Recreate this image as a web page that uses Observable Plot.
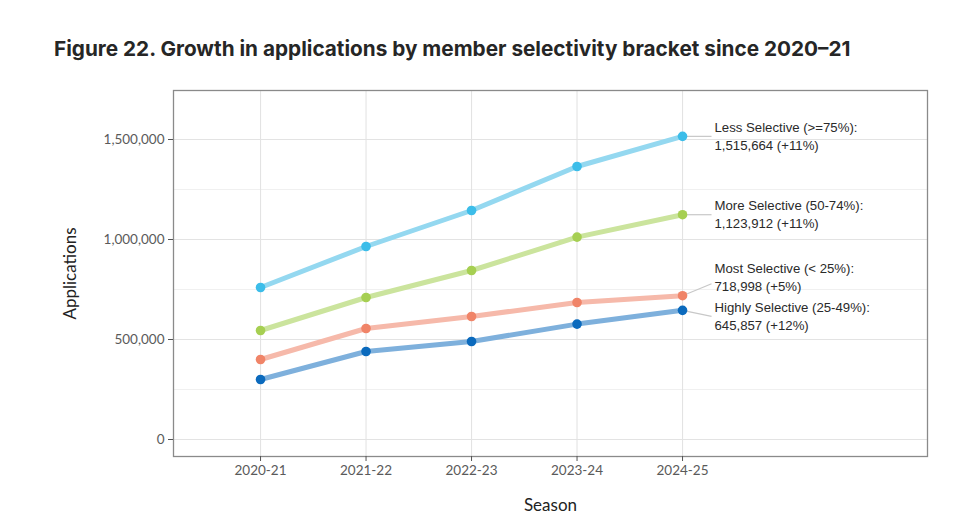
<!DOCTYPE html>
<html>
<head>
<meta charset="utf-8">
<script src="https://cdn.jsdelivr.net/npm/d3@7"></script>
<script src="https://cdn.jsdelivr.net/npm/@observablehq/plot@0.6"></script>
<style>
  html, body { margin: 0; padding: 0; background: #fff; }
  #title { font-family: "Inter", sans-serif; font-weight: 700; font-size: 20px; color: #262626;
           position: absolute; left: 54px; top: 36px; white-space: nowrap; line-height: 26px; }
  #chart { position: absolute; left: 0; top: 80px; }
</style>
</head>
<body>
<div id="title">Figure 22. Growth in applications by member selectivity bracket since 2020–21</div>
<div id="chart"></div>
<script>
const seasons = ["2020-21", "2021-22", "2022-23", "2023-24", "2024-25"];
const seriesNames = ["Less Selective (>=75%)", "More Selective (50-74%)", "Most Selective (< 25%)", "Highly Selective (25-49%)"];
const lessSelective = [760000, 965000, 1145000, 1365000, 1515664];
const moreSelective = [545000, 710000, 845000, 1012000, 1123912];
const mostSelective = [400000, 555000, 615000, 685000, 718998];
const highlySelective = [300000, 440000, 490000, 577000, 645857];
const growthLabels = ["+11%", "+11%", "+5%", "+12%"];
const yTicks = [0, 500000, 1000000, 1500000];
const yMinorTicks = [250000, 750000, 1250000];

const lineColors = ["#94d8f0", "#cbe49d", "#f6b9aa", "#7eb0dc"];
const pointColors = ["#3cbde9", "#a6cf52", "#f08468", "#0b6abd"];

// fit title width to the reference span
const titleEl = document.getElementById("title");
const tw = titleEl.getBoundingClientRect().width;
titleEl.style.fontSize = (20 * 797 / tw).toFixed(2) + "px";

const seriesValues = [lessSelective, moreSelective, mostSelective, highlySelective];
const rows = [];
seriesValues.forEach((vals, s) => vals.forEach((v, i) => rows.push({series: seriesNames[s], s, i, v})));

const W = 963, H = 448;
const mL = 173, mR = 36, mT = 10, mB = 72;
const yDomain = [-85000, 1745000];
const xDomain = [-0.825, 6.322];
const valuePerPx = (yDomain[1] - yDomain[0]) / (H - mT - mB);
const unitPerPx = (xDomain[1] - xDomain[0]) / (W - mL - mR);
const last = seasons.length - 1;
const labelX = last + 32 * unitPerPx;
const leaderX = last + 29 * unitPerPx;
const nudgePx = [-1, -1, -19, 5];
const leaderNudgePx = [0, 0, -12, 6];
const fmt = d3.format(",");

const labels = seriesNames.map((name, s) => {
  const v = seriesValues[s][last];
  return {
    s, v,
    ly: v - nudgePx[s] * valuePerPx,
    lly: v - leaderNudgePx[s] * valuePerPx,
    text: `${name}:\n${fmt(v)} (${growthLabels[s]})`
  };
});

const chart = Plot.plot({
  width: W, height: H,
  marginLeft: mL, marginRight: mR, marginTop: mT, marginBottom: mB,
  style: {fontFamily: "Lato, sans-serif", fontSize: "13.5px", color: "#555", background: "transparent"},
  x: {domain: xDomain, label: null},
  y: {domain: yDomain, label: null},
  marks: [
    Plot.ruleY(yMinorTicks, {stroke: "#f0f0f0", strokeWidth: 1}),
    Plot.ruleY(yTicks, {stroke: "#e3e3e3", strokeWidth: 1.1}),
    Plot.ruleX(d3.range(seasons.length), {stroke: "#e3e3e3", strokeWidth: 1.1}),
    Plot.link(labels, {x1: last, x2: leaderX, y1: "v", y2: "lly", stroke: "#c8c8c8", strokeWidth: 1.2}),
    Plot.line(rows, {x: "i", y: "v", z: "series", stroke: d => lineColors[d.s], strokeWidth: 5, strokeLinecap: "round"}),
    Plot.dot(rows, {x: "i", y: "v", r: 4.8, fill: d => pointColors[d.s], stroke: "none"}),
    Plot.text(labels, {x: labelX, y: "ly", text: "text", textAnchor: "start", lineHeight: 1.36,
      fontFamily: "Liberation Sans, Arial, sans-serif", fontSize: 13.2, fill: "#2a2a2a"}),
    Plot.frame({stroke: "#8a8a8a", strokeWidth: 1.3}),
    Plot.axisX(d3.range(seasons.length), {tickFormat: i => seasons[i], tickSize: 5, tickPadding: 4,
      stroke: "#555", fill: "#5a5a5a", fontSize: 13.5, label: null}),
    Plot.axisY(yTicks, {tickFormat: fmt, tickSize: 5, tickPadding: 4, stroke: "#555", fill: "#5a5a5a", fontSize: 13.5, label: null}),
    Plot.text(["Applications"], {frameAnchor: "left", textAnchor: "middle", dx: -103, rotate: -90, fontSize: 17, fill: "#222"}),
    Plot.text(["Season"], {frameAnchor: "bottom", dy: 54, fontSize: 17, fill: "#222"})
  ]
});
document.getElementById("chart").appendChild(chart);
</script>
</body>
</html>
